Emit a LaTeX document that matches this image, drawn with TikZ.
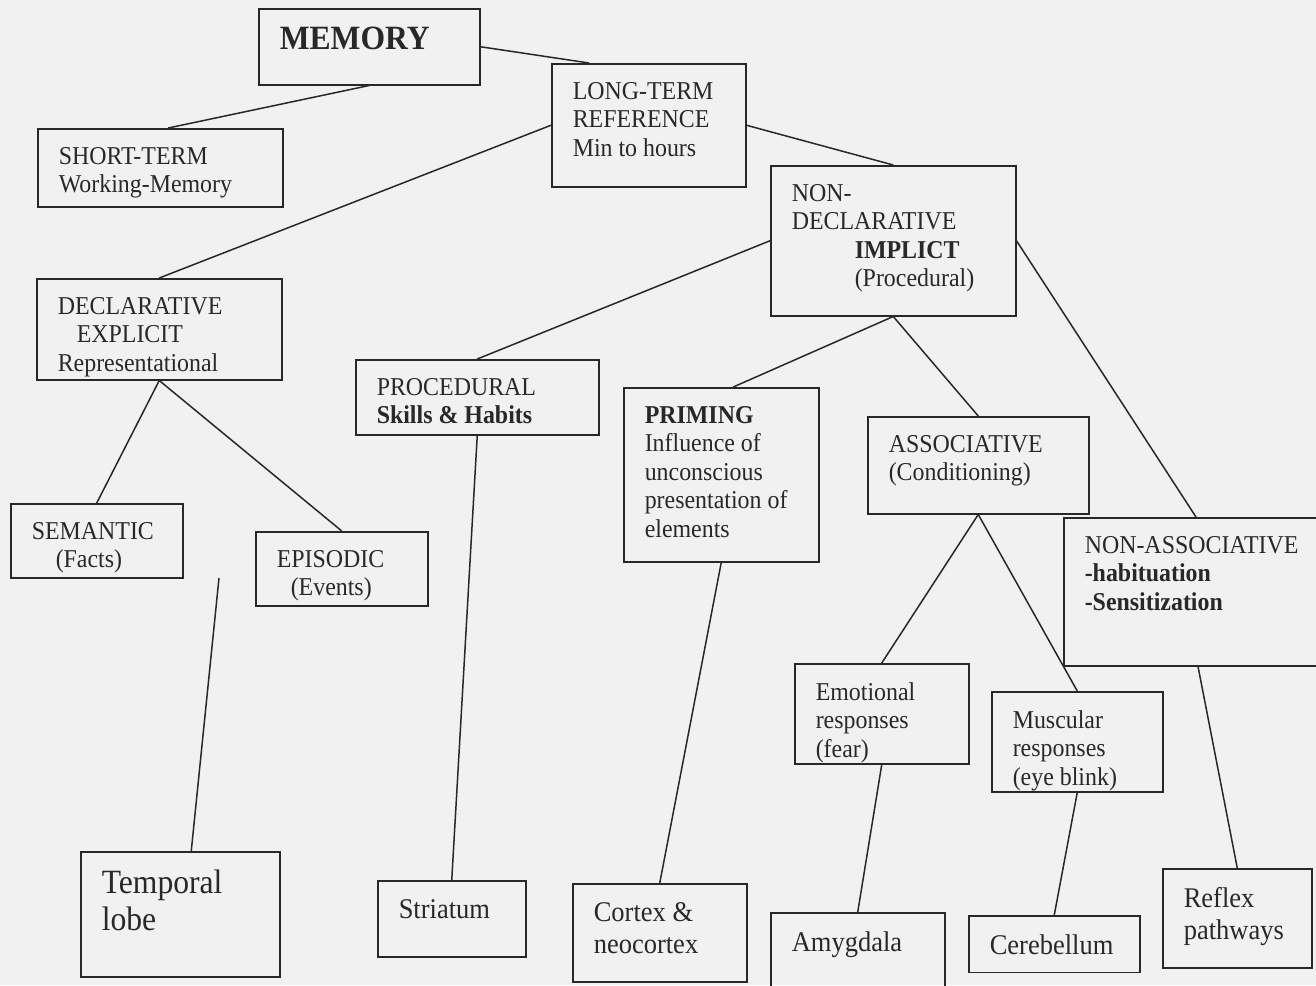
\documentclass[tikz,border=0pt]{standalone}
\usepackage{fontspec}
\setmainfont{Liberation Serif}[FakeStretch=0.93]
\usetikzlibrary{positioning}

% text of a box, set from its top left corner; #1 = width, #2 = height
\newcommand{\boxtxt}[3]{\parbox[t][\dimexpr#2pt-38pt\relax][t]{\dimexpr#1pt-42pt\relax}{\raggedright#3}}

\definecolor{paper}{RGB}{241,241,241}
\definecolor{ink}{RGB}{40,40,40}

\begin{document}
\begin{tikzpicture}[x=1pt, y=-1pt,
    box/.style={draw=ink, line width=1.5pt, anchor=north west, inner xsep=21pt, inner ysep=18.5pt,
        text=ink, font=\fontsize{25.7}{28.5}\selectfont},
    big/.style={font=\fontsize{28.5}{32}\selectfont},
    link/.style={draw=ink, line width=1.5pt}]
        \useasboundingbox (0,0) rectangle (1316,985);
        \fill[paper] (0,0) rectangle (1316,985);
        \clip (0,0) rectangle (1316,985);

        % Define boxes
        \node[box] (Mem) at (258,8) {\boxtxt{221}{77}{\fontsize{34}{38}\selectfont\bfseries MEMORY}};
        \node[box] (Short) at (37,128) {\boxtxt{245}{79}{SHORT-TERM\\Working-Memory}};
        \node[box] (Long) at (551,63) {\boxtxt{194}{124}{LONG-TERM\\REFERENCE\\Min to hours}};
        \node[box] (NonDecl) at (770,165) {\boxtxt{245}{151}{NON-\\DECLARATIVE\\\hspace*{63pt}\textbf{IMPLICT}\\\hspace*{63pt}(Procedural)}};
        \node[box] (Decl) at (36,278) {\boxtxt{245}{102}{DECLARATIVE\\\hspace*{19pt}EXPLICIT\\Representational}};
        \node[box] (Proc) at (355,359) {\boxtxt{243}{76}{PROCEDURAL\\\textbf{Skills \& Habits}}};
        \node[box] (Prim) at (623,387) {\boxtxt{195}{175}{\textbf{PRIMING}\\Influence of\\unconscious\\presentation of\\elements}};
        \node[box] (Assoc) at (867,416) {\boxtxt{221}{98}{ASSOCIATIVE\\(Conditioning)}};
        \node[box] (NonAssoc) at (1063,517) {\boxtxt{290}{149}{NON-ASSOCIATIVE\\\textbf{-habituation}\\\textbf{-Sensitization}}};
        \node[box] (Sem) at (10,503) {\boxtxt{172}{75}{SEMANTIC\\\hspace*{24pt}(Facts)}};
        \node[box] (Epi) at (255,531) {\boxtxt{172}{75}{EPISODIC\\\hspace*{14pt}(Events)}};
        \node[box] (Emo) at (794,663) {\boxtxt{174}{101}{Emotional\\responses\\(fear)}};
        \node[box] (Mus) at (991,691) {\boxtxt{171}{101}{Muscular\\responses\\(eye blink)}};

        % brain areas
        \node[box, font=\fontsize{34}{37}\selectfont] (Temp) at (80,851) {\boxtxt{199}{126}{Temporal\\lobe}};
        \node[box, big] (Str) at (377,880) {\boxtxt{148}{77}{Striatum}};
        \node[box, big] (Cortex) at (572,883) {\boxtxt{174}{99}{Cortex \&\\neocortex}};
        \node[box, big] (Amy) at (770,912) {\boxtxt{174}{90}{Amygdala}};
        \node[box, big] (Cer) at (968,915) {\boxtxt{171}{50}{Cerebellum}};
        \node[box, big] (Reflex) at (1162,868) {\boxtxt{149}{100}{Reflex\\pathways}};
        \coordinate (Loose) at (219,578);

        \path[link]
        % memory splits into short and long term
        (Mem.south) edge ([xshift=8pt]Short.north)
        (Mem.east) edge ([xshift=38pt]Long.north west)
        (Long.west) edge (Decl.north)
        (Long.east) edge (NonDecl.north)
        % declarative side
        (Decl.south) edge (Sem.north)
        (Decl.south) edge (Epi.north)
        (Loose) edge ([xshift=11pt]Temp.north)
        % non-declarative side
        (NonDecl.west) edge (Proc.north)
        (NonDecl.south) edge ([xshift=12pt]Prim.north)
        (NonDecl.south) edge (Assoc.north)
        (NonDecl.east) edge ([xshift=133pt]NonAssoc.north west)
        (Proc.south) edge (Str.north)
        (Prim.south) edge (Cortex.north)
        (Assoc.south) edge (Emo.north)
        (Assoc.south) edge (Mus.north)
        (Emo.south) edge (Amy.north)
        (Mus.south) edge (Cer.north)
        ([xshift=135pt]NonAssoc.south west) edge (Reflex.north);
    \end{tikzpicture}
\end{document}
